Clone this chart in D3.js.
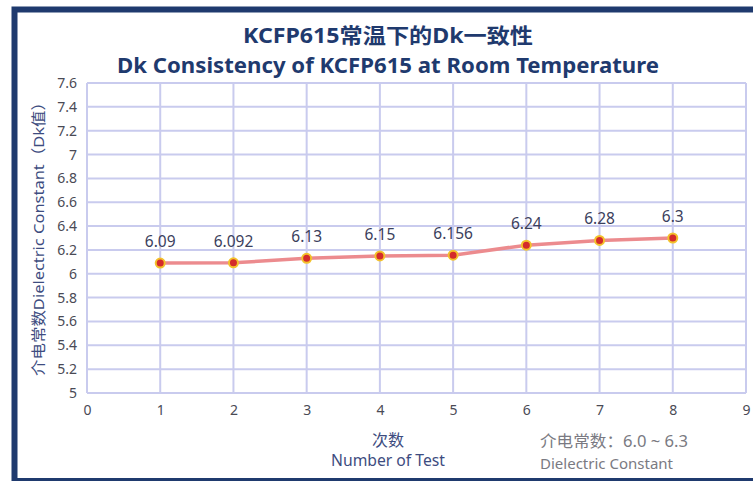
<!DOCTYPE html>
<html><head><meta charset="utf-8">
<script src="https://cdn.jsdelivr.net/npm/d3@7"></script>
<style>body{margin:0;background:#fff}svg{display:block}</style>
</head><body>
<svg id="c" width="753" height="481"></svg>
<script>
const tests = [1,2,3,4,5,6,7,8];
const dkValues = [6.09,6.092,6.13,6.15,6.156,6.24,6.28,6.3];
const dkLabels = ["6.09","6.092","6.13","6.15","6.156","6.24","6.28","6.3"];
const xTicks = [0,1,2,3,4,5,6,7,8,9];
const yTicks = [5,5.2,5.4,5.6,5.8,6,6.2,6.4,6.6,6.8,7,7.2,7.4,7.6];
const title1 = "KCFP615常温下的Dk一致性";
const title2 = "Dk Consistency of KCFP615 at Room Temperature";
const yTitle = "介电常数Dielectric Constant（Dk值）";
const xTitle1 = "次数", xTitle2 = "Number of Test";
const note1 = "介电常数：6.0 ~ 6.3", note2 = "Dielectric Constant";

const svg = d3.select("#c");
const font = "'Noto Sans', 'Noto Sans CJK SC', sans-serif";
const navy = "#1f3a6e";
svg.append("rect").attr("x",0).attr("y",0).attr("width",753).attr("height",481).attr("fill","#fff");
// frame
svg.append("rect").attr("x",14.5).attr("y",9.5).attr("width",760).attr("height",471.5)
  .attr("fill","none").attr("stroke",navy).attr("stroke-width",6);

const x = d3.scaleLinear().domain([0,9]).range([87,746]);
const y = d3.scaleLinear().domain([5,7.6]).range([393,83]);
const grid = "#c9cbee";

const g = svg.append("g");
g.selectAll("line.h").data(yTicks).enter().append("line")
  .attr("x1",x(0)).attr("x2",x(9)).attr("y1",d=>y(d)).attr("y2",d=>y(d))
  .attr("stroke",grid).attr("stroke-width",2);
g.selectAll("line.v").data(xTicks).enter().append("line")
  .attr("y1",y(5)).attr("y2",y(7.6)).attr("x1",d=>x(d)).attr("x2",d=>x(d))
  .attr("stroke",grid).attr("stroke-width",2);

const xAxis = svg.append("g").attr("transform",`translate(0,${y(5)})`)
  .call(d3.axisBottom(x).tickValues(xTicks).tickSize(0).tickPadding(12).tickFormat(d3.format("d")));
const yAxis = svg.append("g").attr("transform",`translate(${x(0)},0)`)
  .call(d3.axisLeft(y).tickValues(yTicks).tickSize(0).tickPadding(10).tickFormat(d=>String(+d.toFixed(1))));
[xAxis,yAxis].forEach(a=>{
  a.select(".domain").remove();
  a.selectAll("text").attr("font-family",font).attr("font-size",14).attr("fill","#4a4a55");
});

const pts = tests.map((t,i)=>({t, v:dkValues[i], l:dkLabels[i]}));
svg.append("path").datum(pts)
  .attr("d", d3.line().x(d=>x(d.t)).y(d=>y(d.v)))
  .attr("fill","none").attr("stroke","#ec8b8e").attr("stroke-width",3.5);
svg.selectAll("circle.p").data(pts).enter().append("circle")
  .attr("cx",d=>x(d.t)).attr("cy",d=>y(d.v)).attr("r",4.5)
  .attr("fill","#d42b2b").attr("stroke","#f3c22c").attr("stroke-width",2);
svg.selectAll("text.lbl").data(pts).enter().append("text")
  .attr("x",d=>x(d.t)).attr("y",d=>y(d.v)-16).attr("text-anchor","middle")
  .attr("font-family",font).attr("font-size",15.5).attr("fill","#3b405c").text(d=>d.l);

svg.append("text").attr("x",388).attr("y",43).attr("text-anchor","middle")
  .attr("font-family",font).attr("font-weight","bold").attr("font-size",21).attr("fill",navy)
  .attr("textLength",290).attr("lengthAdjust","spacingAndGlyphs").text(title1);
svg.append("text").attr("x",388).attr("y",73).attr("text-anchor","middle")
  .attr("font-family",font).attr("font-weight","bold").attr("font-size",21).attr("fill",navy)
  .attr("textLength",542).attr("lengthAdjust","spacingAndGlyphs").text(title2);

svg.append("text").attr("transform","translate(44,235) rotate(-90)").attr("text-anchor","middle")
  .attr("font-family",font).attr("font-size",15).attr("fill","#3d4c80")
  .attr("textLength",282).attr("lengthAdjust","spacingAndGlyphs").text(yTitle);

svg.append("text").attr("x",388).attr("y",446).attr("text-anchor","middle")
  .attr("font-family",font).attr("font-size",16).attr("fill","#3d4c80").text(xTitle1);
svg.append("text").attr("x",388).attr("y",466).attr("text-anchor","middle")
  .attr("font-family",font).attr("font-size",15.5).attr("fill","#3d4c80")
  .attr("textLength",114).attr("lengthAdjust","spacingAndGlyphs").text(xTitle2);

svg.append("text").attr("x",540).attr("y",447)
  .attr("font-family",font).attr("font-size",16).attr("fill","#7a7a82")
  .attr("textLength",148).attr("lengthAdjust","spacingAndGlyphs").text(note1);
svg.append("text").attr("x",540).attr("y",469)
  .attr("font-family",font).attr("font-size",15).attr("fill","#7a7a82")
  .attr("textLength",133).attr("lengthAdjust","spacingAndGlyphs").text(note2);
</script>
</body></html>
